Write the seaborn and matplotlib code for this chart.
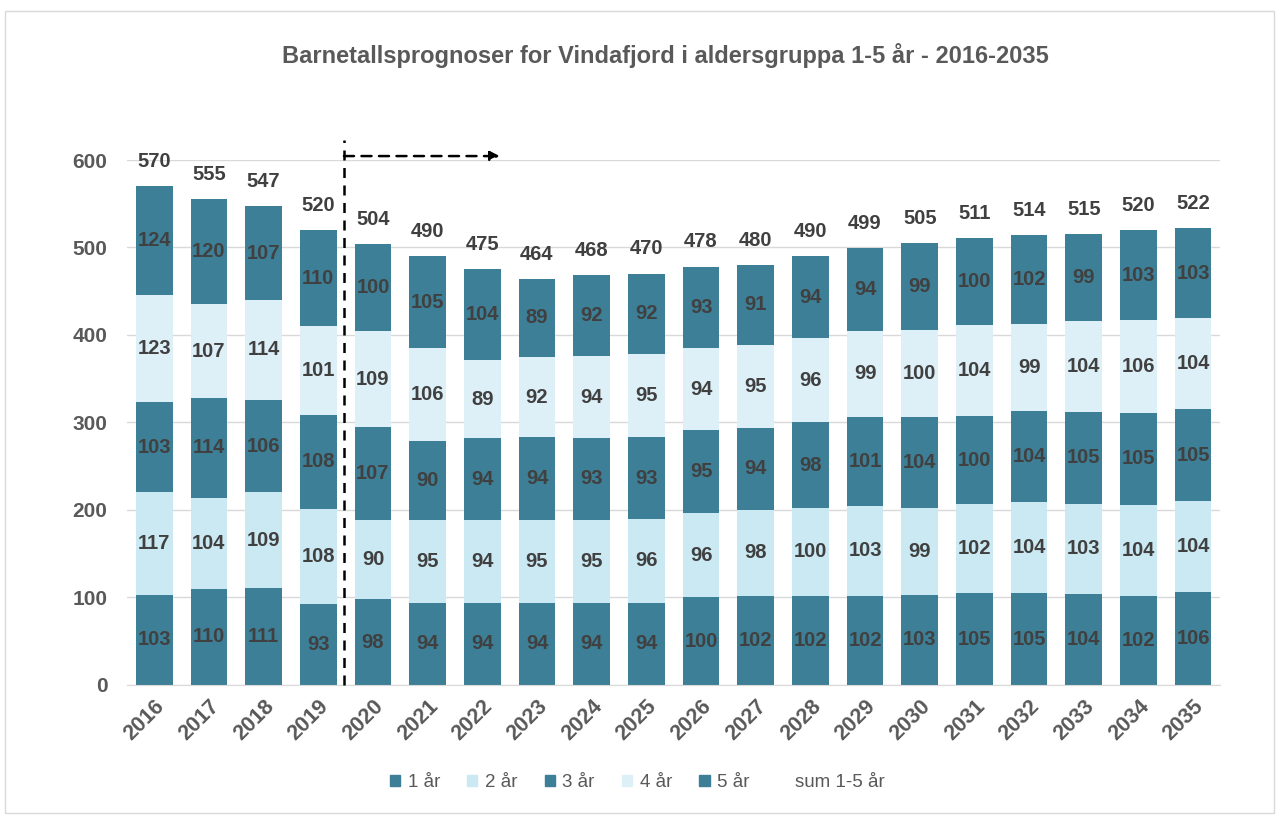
import numpy as np
import pandas as pd
import matplotlib
matplotlib.use("Agg")
import matplotlib.pyplot as plt
import matplotlib.patches as mpatches
import seaborn as sns

# data
years = [str(y) for y in range(2016, 2036)]
age1 = [103, 110, 111, 93, 98, 94, 94, 94, 94, 94, 100, 102, 102, 102, 103, 105, 105, 104, 102, 106]
age2 = [117, 104, 109, 108, 90, 95, 94, 95, 95, 96, 96, 98, 100, 103, 99, 102, 104, 103, 104, 104]
age3 = [103, 114, 106, 108, 107, 90, 94, 94, 93, 93, 95, 94, 98, 101, 104, 100, 104, 105, 105, 105]
age4 = [123, 107, 114, 101, 109, 106, 89, 92, 94, 95, 94, 95, 96, 99, 100, 104, 99, 104, 106, 104]
age5 = [124, 120, 107, 110, 100, 105, 104, 89, 92, 92, 93, 91, 94, 94, 99, 100, 102, 99, 103, 103]
totals = [570, 555, 547, 520, 504, 490, 475, 464, 468, 470, 478, 480, 490, 499, 505, 511, 514, 515, 520, 522]
groups = ["1 år", "2 år", "3 år", "4 år", "5 år"]
colors = ["#3D7F96", "#CBE9F3", "#3D7F96", "#DDF0F8", "#3D7F96"]

layers = [age1, age2, age3, age4, age5]
cum = np.cumsum(np.array(layers), axis=0)

sns.set_style("white")
plt.rcParams["font.family"] = ["Liberation Sans", "DejaVu Sans"]

fig = plt.figure(figsize=(12.82, 8.18), dpi=100)
ax = fig.add_axes([0.099, 0.1626, 0.853, 0.6418])

# stacked bars: draw cumulative totals from top layer down
for i in range(4, -1, -1):
    df = pd.DataFrame({"year": years, "value": cum[i]})
    sns.barplot(data=df, x="year", y="value", color=colors[i], saturation=1,
                width=0.67, linewidth=0, ax=ax, zorder=2)

# segment labels
for i, vals in enumerate(layers):
    for j, v in enumerate(vals):
        ax.text(j, cum[i][j] - v / 2, str(v), ha="center", va="center",
                fontsize=14.5, fontweight="bold", color="#404040", zorder=4)

# sum labels
for j, t in enumerate(totals):
    ax.annotate(str(t), (j, t), xytext=(0, 11), textcoords="offset points",
                ha="center", va="bottom", fontsize=14.5, fontweight="bold",
                color="#404040", zorder=4)

ax.set_ylim(0, 600)
ax.set_xlim(-0.5, len(years) - 0.5)
ax.set_yticks(range(0, 601, 100))
ax.yaxis.grid(True, color="#D9D9D9", linewidth=1, zorder=0)
ax.set_axisbelow(True)
for s in ["left", "right", "top"]:
    ax.spines[s].set_visible(False)
ax.spines["bottom"].set_color("#D9D9D9")
ax.set_xlabel("")
ax.set_ylabel("")
ax.tick_params(axis="both", length=0, labelsize=15, labelcolor="#595959")
ax.tick_params(axis="y", pad=14)
ax.tick_params(axis="x", pad=8, labelsize=15.5)
for lab in ax.get_yticklabels():
    lab.set_fontweight("bold")
for lab in ax.get_xticklabels():
    lab.set_fontweight("bold")
    lab.set_rotation(45)
    lab.set_ha("right")
    lab.set_rotation_mode("anchor")

# prognosis marker: dashed vertical line and arrow
ax.plot([3.47, 3.47], [0, 623], ls=(0, (4, 3)), color="black", lw=1.8,
        clip_on=False, zorder=5)
ax.annotate("", xy=(6.32, 604.5), xytext=(3.47, 604.5),
            arrowprops=dict(arrowstyle="-|>", ls=(0, (4, 3)), color="black",
                            lw=1.8, mutation_scale=14, shrinkA=0, shrinkB=0),
            annotation_clip=False, zorder=5)

fig.suptitle("Barnetallsprognoser for Vindafjord i aldersgruppa 1-5 år - 2016-2035",
             x=0.519, y=0.947, fontsize=17, fontweight="bold", color="#595959")

handles = [mpatches.Patch(color=c, label=g) for c, g in zip(colors, groups)]
handles.append(mpatches.Patch(color="none", label="sum 1-5 år"))
fig.legend(handles=handles, loc="center", bbox_to_anchor=(0.497, 0.043), ncol=6,
           frameon=False, fontsize=13.5, handlelength=0.55, handleheight=0.55,
           handletextpad=0.4, columnspacing=1.45, labelcolor="#595959")

fig.add_artist(mpatches.Rectangle((0.004, 0.006), 0.99, 0.981, transform=fig.transFigure,
                                  fill=False, edgecolor="#D9D9D9", lw=1))

fig.savefig("out.png", dpi=100)
